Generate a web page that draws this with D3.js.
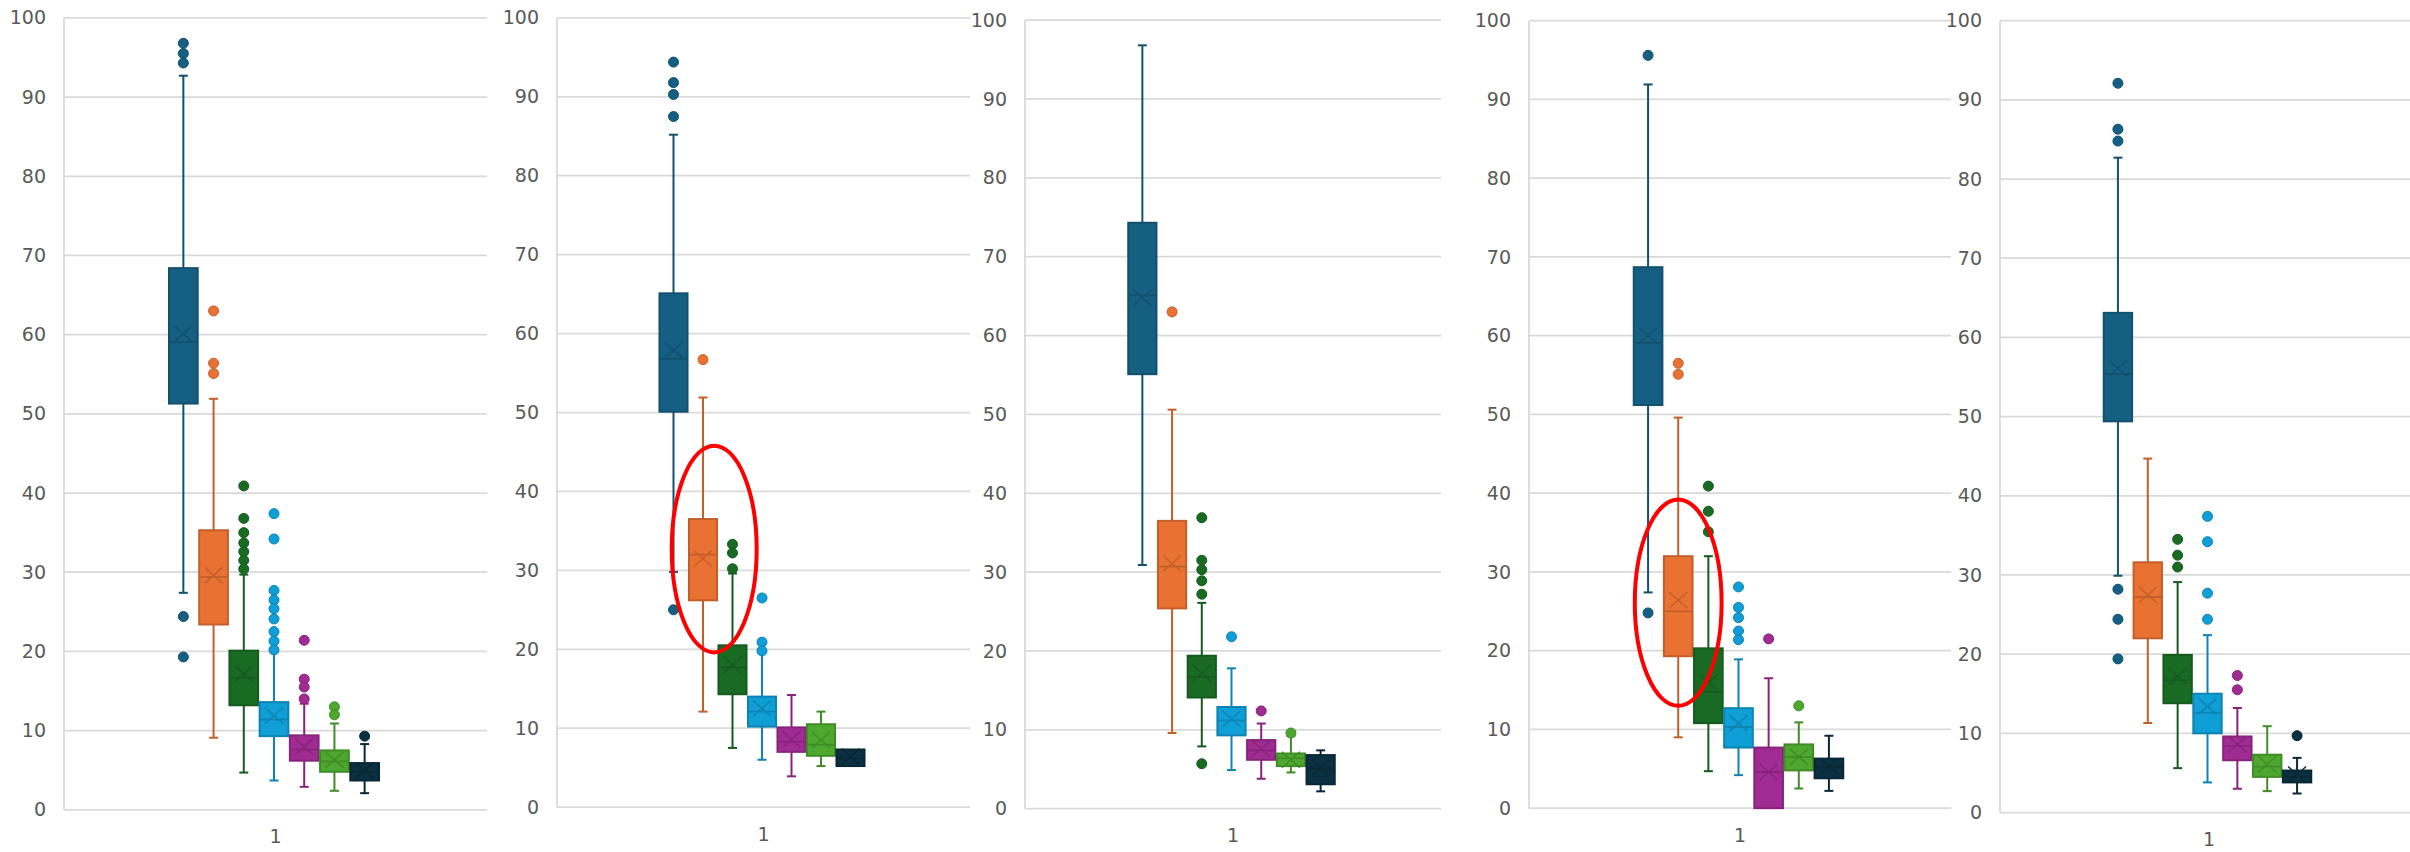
<!DOCTYPE html>
<html>
<head>
<meta charset="utf-8">
<script src="https://cdn.jsdelivr.net/npm/d3@7"></script>
<style>
  html, body { margin: 0; padding: 0; background: #ffffff; }
  svg { display: block; }
</style>
</head>
<body>
<script>
// ---------------- DATA ----------------
const categories = ["1"];
const seriesNames = ["Series 1", "Series 2", "Series 3", "Series 4", "Series 5", "Series 6", "Series 7"];
const panelNames = ["Chart 1", "Chart 2", "Chart 3", "Chart 4", "Chart 5"];
const yTicks = [0, 10, 20, 30, 40, 50, 60, 70, 80, 90, 100];

// rows = panels, columns = series
const whiskerLow = [
  [27.4, 9.1, 4.7, 3.7, 2.9, 2.4, 2.1],
  [29.8, 12.1, 7.5, 6.0, 3.9, 5.2, 5.2],
  [30.9, 9.6, 7.9, 4.9, 3.8, 4.6, 2.2],
  [27.4, 9.0, 4.7, 4.2, 0.0, 2.5, 2.2],
  [29.9, 11.3, 5.6, 3.8, 3.0, 2.7, 2.4]
];
const quartile1 = [
  [51.3, 23.4, 13.2, 9.3, 6.2, 4.8, 3.7],
  [50.1, 26.2, 14.3, 10.2, 7.0, 6.5, 5.2],
  [55.1, 25.4, 14.1, 9.3, 6.2, 5.4, 3.1],
  [51.2, 19.3, 10.8, 7.7, 0.0, 4.8, 3.8],
  [49.4, 22.0, 13.8, 10.0, 6.6, 4.5, 3.8]
];
const medians = [
  [59.1, 29.4, 16.7, 11.4, 7.6, 6.1, 4.8],
  [56.8, 32.0, 17.7, 12.1, 8.3, 7.9, 6.2],
  [65.1, 30.7, 16.7, 11.2, 7.4, 6.4, 5.1],
  [59.1, 25.0, 14.8, 10.3, 4.6, 6.5, 5.2],
  [55.4, 27.2, 16.7, 12.6, 8.4, 5.8, 4.5]
];
const quartile3 = [
  [68.4, 35.3, 20.1, 13.6, 9.4, 7.5, 5.9],
  [65.1, 36.5, 20.5, 14.0, 10.1, 10.5, 7.3],
  [74.3, 36.5, 19.4, 12.9, 8.7, 7.0, 6.8],
  [68.7, 32.0, 20.3, 12.7, 7.7, 8.1, 6.3],
  [63.1, 31.6, 19.9, 15.0, 9.6, 7.3, 5.3]
];
const whiskerHigh = [
  [92.7, 51.9, 29.7, 19.9, 13.4, 10.9, 8.3],
  [85.2, 51.9, 29.6, 19.6, 14.2, 12.1, 7.3],
  [96.8, 50.6, 26.1, 17.8, 10.8, 9.2, 7.4],
  [91.9, 49.6, 32.0, 18.9, 16.5, 10.9, 9.2],
  [82.7, 44.7, 29.1, 22.4, 13.2, 10.9, 6.9]
];
const means = [
  [60.1, 29.6, 17.2, 11.9, 8.0, 6.3, 5.0],
  [57.9, 31.5, 18.0, 12.5, 8.6, 8.5, 6.4],
  [64.8, 31.1, 17.2, 11.4, 7.6, 6.2, 5.2],
  [60.0, 26.4, 16.0, 10.8, 4.6, 6.5, 5.3],
  [56.1, 27.5, 17.2, 13.4, 8.6, 6.1, 4.8]
];
const outliers = [
  [[96.8, 95.5, 94.3, 24.4, 19.3], [63.0, 56.4, 55.1], [40.9, 36.8, 35.0, 33.7, 32.6, 31.5, 30.4],
   [37.4, 34.2, 27.7, 26.5, 25.4, 24.1, 22.5, 21.3, 20.2], [21.4, 16.5, 15.5, 14.0], [13.0, 12.0], [9.3]],
  [[94.4, 91.8, 90.3, 87.5, 25.0], [56.7], [33.3, 32.2, 30.2], [26.5, 20.9, 19.8], [], [], []],
  [[], [63.0], [36.9, 31.5, 30.3, 28.9, 27.2, 5.7], [21.8], [12.4], [9.6], []],
  [[95.6, 24.8], [56.5, 55.1], [40.9, 37.7, 35.1], [28.1, 25.5, 24.2, 22.5, 21.4], [21.5], [13.0], []],
  [[92.1, 86.3, 84.8, 28.2, 24.4, 19.4], [], [34.5, 32.5, 31.0], [37.4, 34.2, 27.7, 24.4], [17.3, 15.5], [], [9.7]]
];

// red highlight rings (panel index, series index, centre value, half-height in value units)
const highlightPanel = [1, 3];
const highlightSeries = [1, 1];
const highlightCentre = [32.7, 26.1];
const highlightHalfHeight = [13.1, 13.1];
const highlightShift = [0.38, 0.0];   // horizontal shift, in series slots

// ---------------- STYLE / LAYOUT ----------------
const seriesColors = ["#156082", "#E97132", "#196B24", "#0F9ED5", "#A02B93", "#4EA72E", "#0B3041"];
const layout = [
  { left: 64,   right: 487,  top: 17.9, bottom: 809.8 },
  { left: 557,  right: 970,  top: 17.9, bottom: 807.1 },
  { left: 1025, right: 1441, top: 20.1, bottom: 808.7 },
  { left: 1529, right: 1951, top: 20.7, bottom: 808.2 },
  { left: 2000, right: 2418, top: 20.7, bottom: 812.5 }
];
const FONT = "'DejaVu Sans', 'Open Sans', sans-serif";
const FONT_SIZE = 19;
const GRID = "#d9d9d9";
const TEXT = "#595959";

const W = 2410, H = 852;
const svg = d3.select("body").append("svg")
  .attr("width", W).attr("height", H)
  .attr("viewBox", `0 0 ${W} ${H}`);
svg.append("rect").attr("width", W).attr("height", H).attr("fill", "#ffffff");

const scalesByPanel = [];

panelNames.forEach((pname, p) => {
  const L = layout[p];
  const g = svg.append("g").attr("class", "panel").attr("data-name", pname);

  const y = d3.scaleLinear().domain([0, 100]).range([L.bottom, L.top]);
  const x0 = d3.scaleBand().domain(categories).range([L.left, L.right]);
  const cx = x0(categories[0]) + x0.bandwidth() / 2;
  const groupW = x0.bandwidth() / 2; // gap width 100%
  const xs = d3.scaleBand().domain(seriesNames)
    .range([cx - groupW / 2 - 1.5, cx + groupW / 2 - 1.5])
    .paddingInner(0.05).paddingOuter(0.025);
  scalesByPanel.push({ y, xs });

  // gridlines
  g.append("g").selectAll("line").data(yTicks).join("line")
    .attr("x1", L.left).attr("x2", L.right)
    .attr("y1", d => y(d)).attr("y2", d => y(d))
    .attr("stroke", GRID).attr("stroke-width", 1.75);
  // vertical axis line
  g.append("line")
    .attr("x1", L.left).attr("x2", L.left)
    .attr("y1", y(100)).attr("y2", y(0))
    .attr("stroke", GRID).attr("stroke-width", 1.75);

  // y axis labels
  const ay = g.append("g").attr("transform", `translate(${L.left},0)`)
    .call(d3.axisLeft(y).tickValues(yTicks).tickSize(0).tickPadding(18));
  ay.select(".domain").remove();
  ay.selectAll("text").attr("font-family", FONT).attr("font-size", FONT_SIZE).attr("fill", TEXT);

  // x axis label
  const ax = g.append("g").attr("transform", `translate(0,${L.bottom})`)
    .call(d3.axisBottom(x0).tickSize(0).tickPadding(20));
  ax.select(".domain").remove();
  ax.selectAll("text").attr("font-family", FONT).attr("font-size", FONT_SIZE).attr("fill", TEXT);

  // boxes
  seriesNames.forEach((s, i) => {
    const col = seriesColors[i];
    const dark = d3.color(col).darker(0.5).formatHex();
    const bx = xs(s), bw = xs.bandwidth(), mx = bx + bw / 2;
    const sg = g.append("g").attr("class", "series").attr("data-series", s);
    const lo = whiskerLow[p][i], q1 = quartile1[p][i], md = medians[p][i],
          q3 = quartile3[p][i], hi = whiskerHigh[p][i], mn = means[p][i];
    const cap = 4.5;

    // whiskers
    if (hi > q3) {
      sg.append("line").attr("x1", mx).attr("x2", mx).attr("y1", y(hi)).attr("y2", y(q3))
        .attr("stroke", dark).attr("stroke-width", 2);
      sg.append("line").attr("x1", mx - cap).attr("x2", mx + cap).attr("y1", y(hi)).attr("y2", y(hi))
        .attr("stroke", dark).attr("stroke-width", 2);
    }
    if (lo < q1) {
      sg.append("line").attr("x1", mx).attr("x2", mx).attr("y1", y(q1)).attr("y2", y(lo))
        .attr("stroke", dark).attr("stroke-width", 2);
      sg.append("line").attr("x1", mx - cap).attr("x2", mx + cap).attr("y1", y(lo)).attr("y2", y(lo))
        .attr("stroke", dark).attr("stroke-width", 2);
    }
    // box
    sg.append("rect").attr("x", bx).attr("width", bw)
      .attr("y", y(q3)).attr("height", y(q1) - y(q3))
      .attr("fill", col).attr("stroke", dark).attr("stroke-width", 2);
    // median
    sg.append("line").attr("x1", bx).attr("x2", bx + bw).attr("y1", y(md)).attr("y2", y(md))
      .attr("stroke", dark).attr("stroke-width", 1.75);
    // mean marker (X)
    const hx = 9, hy = 8, ym = y(mn);
    sg.append("path")
      .attr("d", `M${mx - hx},${ym - hy}L${mx + hx},${ym + hy}M${mx - hx},${ym + hy}L${mx + hx},${ym - hy}`)
      .attr("stroke", dark).attr("stroke-width", 1.5).attr("fill", "none");
    // outliers
    sg.selectAll("circle").data(outliers[p][i]).join("circle")
      .attr("cx", mx).attr("cy", d => y(d)).attr("r", 5)
      .attr("fill", col).attr("stroke", dark).attr("stroke-width", 1);
  });
});

// highlight rings
highlightPanel.forEach((p, k) => {
  const { y, xs } = scalesByPanel[p];
  const s = seriesNames[highlightSeries[k]];
  const slot = xs.step();
  const cxh = xs(s) + xs.bandwidth() / 2 + highlightShift[k] * slot;
  const v = highlightCentre[k], r = highlightHalfHeight[k];
  svg.append("ellipse")
    .attr("cx", cxh).attr("cy", y(v))
    .attr("rx", 1.44 * slot).attr("ry", y(v - r) - y(v))
    .attr("fill", "none").attr("stroke", "#ff0000").attr("stroke-width", 4);
});
</script>
</body>
</html>
